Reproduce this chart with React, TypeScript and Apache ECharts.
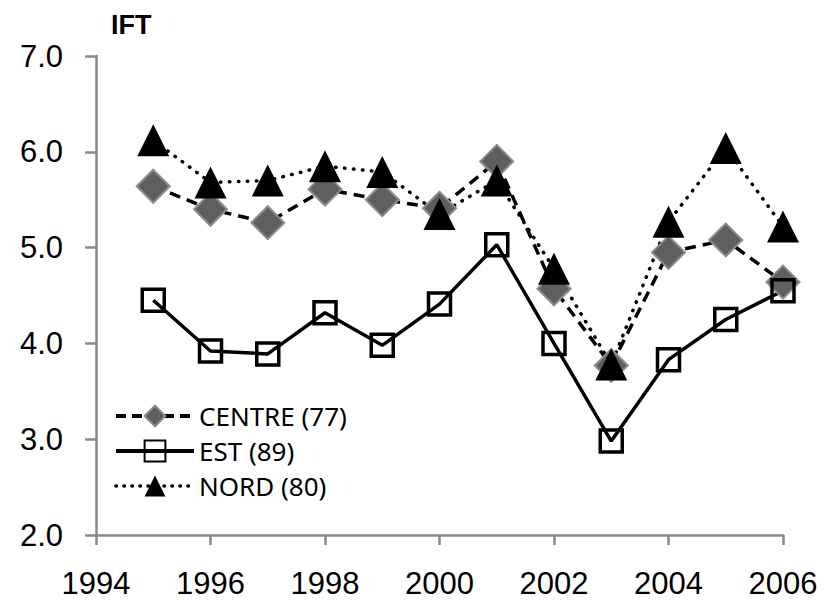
import React, { useEffect, useRef } from "react";
import * as echarts from "echarts";

const years = [1995, 1996, 1997, 1998, 1999, 2000, 2001, 2002, 2003, 2004, 2005, 2006];
const centreValues = [5.64, 5.40, 5.26, 5.61, 5.50, 5.41, 5.90, 4.57, 3.77, 4.95, 5.08, 4.64];
const estValues = [4.45, 3.92, 3.89, 4.32, 3.98, 4.41, 5.03, 4.00, 2.98, 3.83, 4.25, 4.55];
const nordValues = [6.12, 5.68, 5.70, 5.85, 5.79, 5.35, 5.70, 4.78, 3.78, 5.27, 6.04, 5.22];
const seriesNames = ["CENTRE (77)", "EST (89)", "NORD (80)"];
const yAxisTitle = "IFT";

const pair = (vals: number[]) => years.map((y, i) => [y, vals[i]]);

export default function App() {
  const ref = useRef<HTMLDivElement>(null);
  useEffect(() => {
    if (!ref.current) return;
    const chart = echarts.init(ref.current, undefined, { renderer: "svg" });
    const axisColor = "#898989";
    const font = "Liberation Sans, Arial, sans-serif";
    const centreLine = { color: "#000", width: 3.5, type: [11, 7] };
    const estLine = { color: "#000", width: 3.5, type: "solid" };
    const nordLine = { color: "#000", width: 3.5, type: [0.5, 8.5], cap: "round" };
    chart.setOption({
      animation: false,
      backgroundColor: "#ffffff",
      title: {
        text: yAxisTitle,
        left: 106,
        top: 6,
        textStyle: { fontFamily: font, fontWeight: "bold", fontSize: 27, color: "#000" },
      },
      grid: { left: 96, right: 41, top: 56, bottom: 66, containLabel: false },
      legend: {
        orient: "vertical",
        left: 109,
        top: 398,
        itemWidth: 78,
        itemHeight: 26,
        itemGap: 9,
        textStyle: { fontFamily: "Noto Sans, sans-serif", fontSize: 26, color: "#000" },
        data: [
          { name: seriesNames[0], lineStyle: { ...centreLine, width: 4, type: [10, 6] } },
          { name: seriesNames[1], lineStyle: { ...estLine, width: 4 } },
          { name: seriesNames[2], lineStyle: { ...nordLine, width: 3.5, type: [0.5, 7.5] } },
        ],
      },
      xAxis: {
        type: "value",
        min: 1994,
        max: 2006,
        interval: 2,
        splitLine: { show: false },
        axisLine: { show: true, lineStyle: { color: axisColor, width: 2.5 } },
        axisTick: { show: true, length: 10, lineStyle: { color: axisColor, width: 2.5 } },
        axisLabel: {
          margin: 33,
          fontFamily: font,
          fontSize: 31,
          color: "#000",
          formatter: (v: number) => String(v),
        },
      },
      yAxis: {
        type: "value",
        min: 2,
        max: 7,
        interval: 1,
        splitLine: { show: false },
        axisLine: { show: true, lineStyle: { color: axisColor, width: 2.5 } },
        axisTick: { show: true, length: 11, lineStyle: { color: axisColor, width: 2.5 } },
        axisLabel: {
          margin: 33,
          fontFamily: font,
          fontSize: 31,
          color: "#000",
          formatter: (v: number) => v.toFixed(1),
        },
      },
      series: [
        {
          name: seriesNames[0],
          type: "line",
          data: pair(centreValues),
          symbol: "diamond",
          symbolSize: 33,
          lineStyle: centreLine,
          itemStyle: { color: "#5f5f5f", borderColor: "#8c8c8c", borderWidth: 2 },
        },
        {
          name: seriesNames[1],
          type: "line",
          data: pair(estValues),
          symbol: "rect",
          symbolSize: 22,
          lineStyle: estLine,
          itemStyle: { color: "rgba(255,255,255,0)", borderColor: "#000", borderWidth: 3.5 },
        },
        {
          name: seriesNames[2],
          type: "line",
          data: pair(nordValues),
          symbol: "triangle",
          symbolSize: 32,
          lineStyle: nordLine,
          itemStyle: { color: "#000" },
        },
      ],
    });
    return () => chart.dispose();
  }, []);
  return <div ref={ref} style={{ width: 824, height: 601, position: "absolute", left: 0, top: 0 }} />;
}
